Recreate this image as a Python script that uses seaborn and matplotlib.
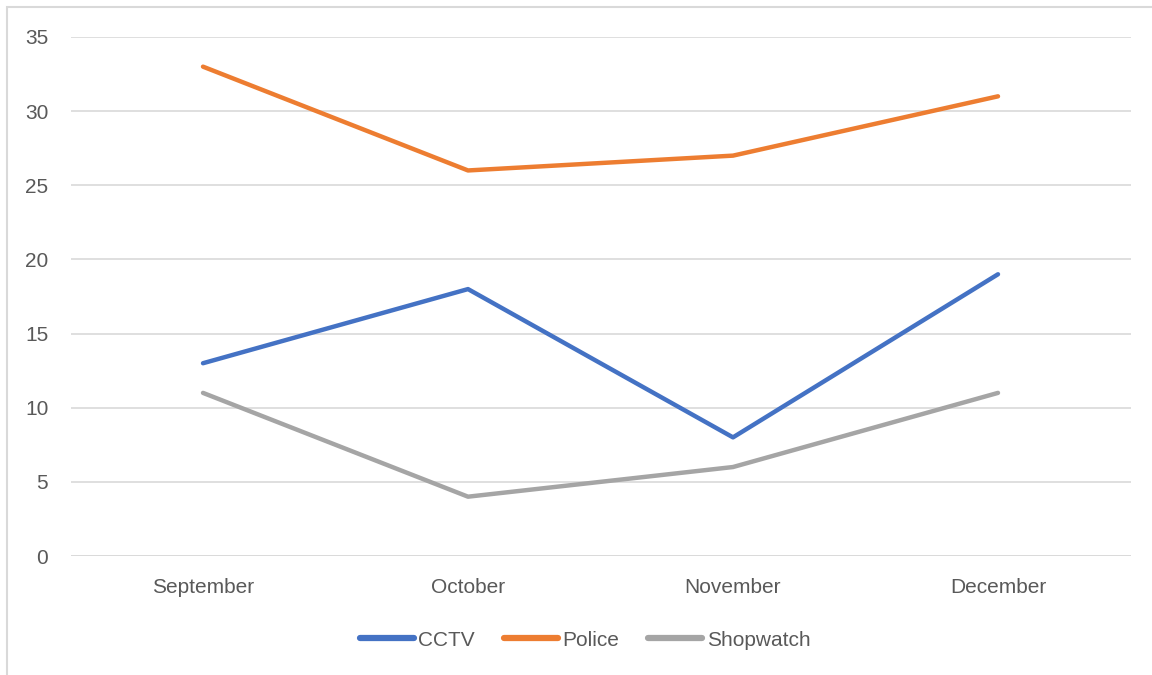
import pandas as pd
import seaborn as sns
import matplotlib.pyplot as plt
from matplotlib.patches import Rectangle

months = ["September", "October", "November", "December"]
cctv = [13, 18, 8, 19]
police = [33, 26, 27, 31]
shopwatch = [11, 4, 6, 11]
series_names = ["CCTV", "Police", "Shopwatch"]
colors = ["#4472C4", "#ED7D31", "#A5A5A5"]

df = pd.DataFrame({
    "month": months * 3,
    "value": cctv + police + shopwatch,
    "series": [s for s in series_names for _ in months],
})

sns.set_theme(style="white")
plt.rcParams["font.family"] = ["Liberation Sans", "DejaVu Sans"]

fig = plt.figure(figsize=(11.52, 6.75), dpi=100)
ax = fig.add_axes([70.5 / 1152, 1 - 556 / 675, 1060 / 1152, 519 / 675])

sns.lineplot(data=df, x="month", y="value", hue="series",
             palette=colors, linewidth=3.2, ax=ax, legend=False, sort=False)

ax.set_xlim(-0.5, 3.5)
ax.set_ylim(0, 35)
ax.set_yticks(range(0, 36, 5))
ax.grid(axis="y", color="#d9d9d9", linewidth=1.2)
ax.set_axisbelow(True)
for s in ax.spines.values():
    s.set_visible(False)
ax.axhline(0, color="#d9d9d9", linewidth=1.2, zorder=0)
ax.tick_params(axis="both", length=0, labelsize=15, colors="#595959")
ax.tick_params(axis="y", pad=16)
ax.tick_params(axis="x", pad=16)
ax.set_xlabel("")
ax.set_ylabel("")

handles = [plt.Line2D([], [], color=c, linewidth=4.5, solid_capstyle="round")
           for c in colors]
fig.legend(handles, series_names, loc="center",
           bbox_to_anchor=(585 / 1152, 1 - 640 / 675), ncol=3,
           frameon=False, fontsize=15, handlelength=2.6,
           handletextpad=0.2, columnspacing=1.4, labelcolor="#595959")

fig.patches.append(Rectangle((7 / 1152, -0.1), 1.2, 1.1 - 7 / 675,
                             transform=fig.transFigure, fill=False,
                             edgecolor="#d9d9d9", linewidth=1.5))

fig.savefig("out.png", dpi=100)
